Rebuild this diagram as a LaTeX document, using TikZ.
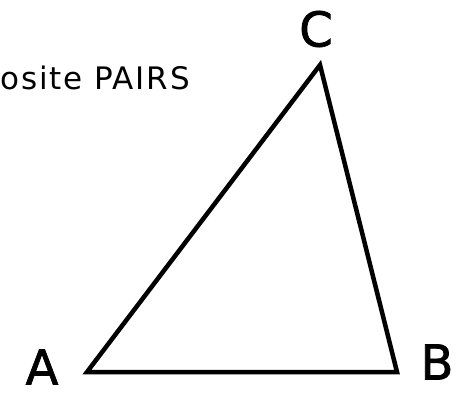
\documentclass[tikz,border=0pt]{standalone}
\usepackage{fontspec}
\setmainfont{DejaVu Sans}
\begin{document}
\begin{tikzpicture}[x=1pt,y=-1pt,
  edge/.style={line width=4.5pt,line join=miter},
  vlabel/.style={font=\fontsize{48}{48}\selectfont\addfontfeatures{FakeBold=1.5},inner sep=0pt},
  title/.style={font=\fontsize{31}{31}\selectfont\addfontfeatures{LetterSpace=6},inner sep=0pt,anchor=base west}]
\useasboundingbox[fill=white] (0,0) rectangle (461,393);
\coordinate (A) at (87,372);
\coordinate (B) at (397,372);
\coordinate (C) at (320,65);
\draw[edge] (A) -- (B) -- (C) -- cycle;
\node[vlabel] (la) at (42,367) {A};
\node[vlabel] (lb) at (437,362) {B};
\node[vlabel] (lc) at (316,29) {C};
\node[title] (t) at (0,90) {osite PAIRS};
\end{tikzpicture}
\end{document}
